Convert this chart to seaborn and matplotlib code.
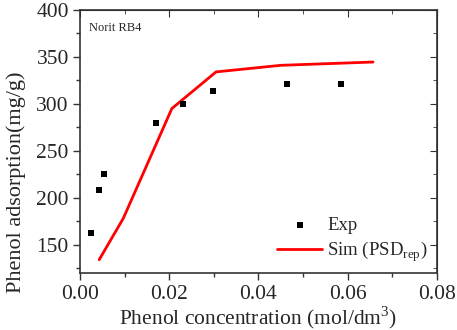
import pandas as pd
import seaborn as sns
import matplotlib.pyplot as plt
from matplotlib.ticker import MultipleLocator

exp_x = [0.0025, 0.0042, 0.0053, 0.0171, 0.0231, 0.0298, 0.0465, 0.0585]
exp_y = [162.5, 208, 225.5, 280, 300.3, 313.5, 320.6, 321]
sim_x = [0.0043, 0.0097, 0.0206, 0.0305, 0.045, 0.0657]
sim_y = [134, 178, 295, 334, 341, 344.5]

df_exp = pd.DataFrame({'x': exp_x, 'y': exp_y})
df_sim = pd.DataFrame({'x': sim_x, 'y': sim_y})

sns.set_style('ticks')
plt.rcParams['font.family'] = ['Liberation Serif', 'DejaVu Serif']
plt.rcParams['mathtext.fontset'] = 'custom'
plt.rcParams['mathtext.rm'] = 'Liberation Serif'

fig, ax = plt.subplots(figsize=(4.57, 3.30), dpi=100)
fig.subplots_adjust(left=0.175, right=0.956, top=0.97, bottom=0.173)

sns.scatterplot(x='x', y='y', data=df_exp, marker='s', s=22, color='black',
                edgecolor='black', linewidth=0, label='Exp', ax=ax, zorder=3)
sns.lineplot(x='x', y='y', data=df_sim, color='red', lw=2,
             label=r'Sim (PSD$_{\mathregular{rep}}$)', ax=ax, sort=False)

ax.set_xlim(0, 0.08)
ax.set_ylim(120, 400)
ax.xaxis.set_major_locator(MultipleLocator(0.02))
ax.xaxis.set_minor_locator(MultipleLocator(0.01))
ax.yaxis.set_major_locator(MultipleLocator(50))
ax.yaxis.set_minor_locator(MultipleLocator(25))
ax.xaxis.set_major_formatter(plt.FuncFormatter(lambda v, p: f'{v:.2f}'))
ax.tick_params(which='both', direction='out', labelsize=15.5, color='#333333')
ax.tick_params(which='major', length=5, width=1)
ax.tick_params(which='minor', length=3, width=1)
ax.tick_params(axis='x', pad=4)
ax.tick_params(axis='y', pad=3)
for s in ax.spines.values():
    s.set_linewidth(1.2)
    s.set_color('#333333')

top = ax.secondary_xaxis('top')
top.xaxis.set_major_locator(MultipleLocator(0.02))
top.xaxis.set_minor_locator(MultipleLocator(0.01))
top.tick_params(which='both', direction='in', labeltop=False, color='#333333')
top.tick_params(which='major', length=5)
top.tick_params(which='minor', length=3)
right = ax.secondary_yaxis('right')
right.yaxis.set_major_locator(MultipleLocator(50))
right.yaxis.set_minor_locator(MultipleLocator(25))
right.tick_params(which='both', direction='in', labelright=False, color='#333333')
right.tick_params(which='major', length=5)
right.tick_params(which='minor', length=3)

ax.set_xlabel(r'Phenol concentration (mol/dm$^{\mathregular{3}}$)', fontsize=15.5, labelpad=0)
ax.set_ylabel('Phenol adsorption(mg/g)', fontsize=16)
ax.yaxis.set_label_coords(-0.152, 0.345)
ax.text(0.025, 0.955, 'Norit RB4', transform=ax.transAxes, fontsize=9, va='top')

ax.legend(loc='lower right', frameon=False, fontsize=13.5, handlelength=2.4,
          handletextpad=0.25, labelspacing=0.25, borderpad=0,
          bbox_to_anchor=(1.0, 0.0))

fig.savefig('out.png', dpi=100)
